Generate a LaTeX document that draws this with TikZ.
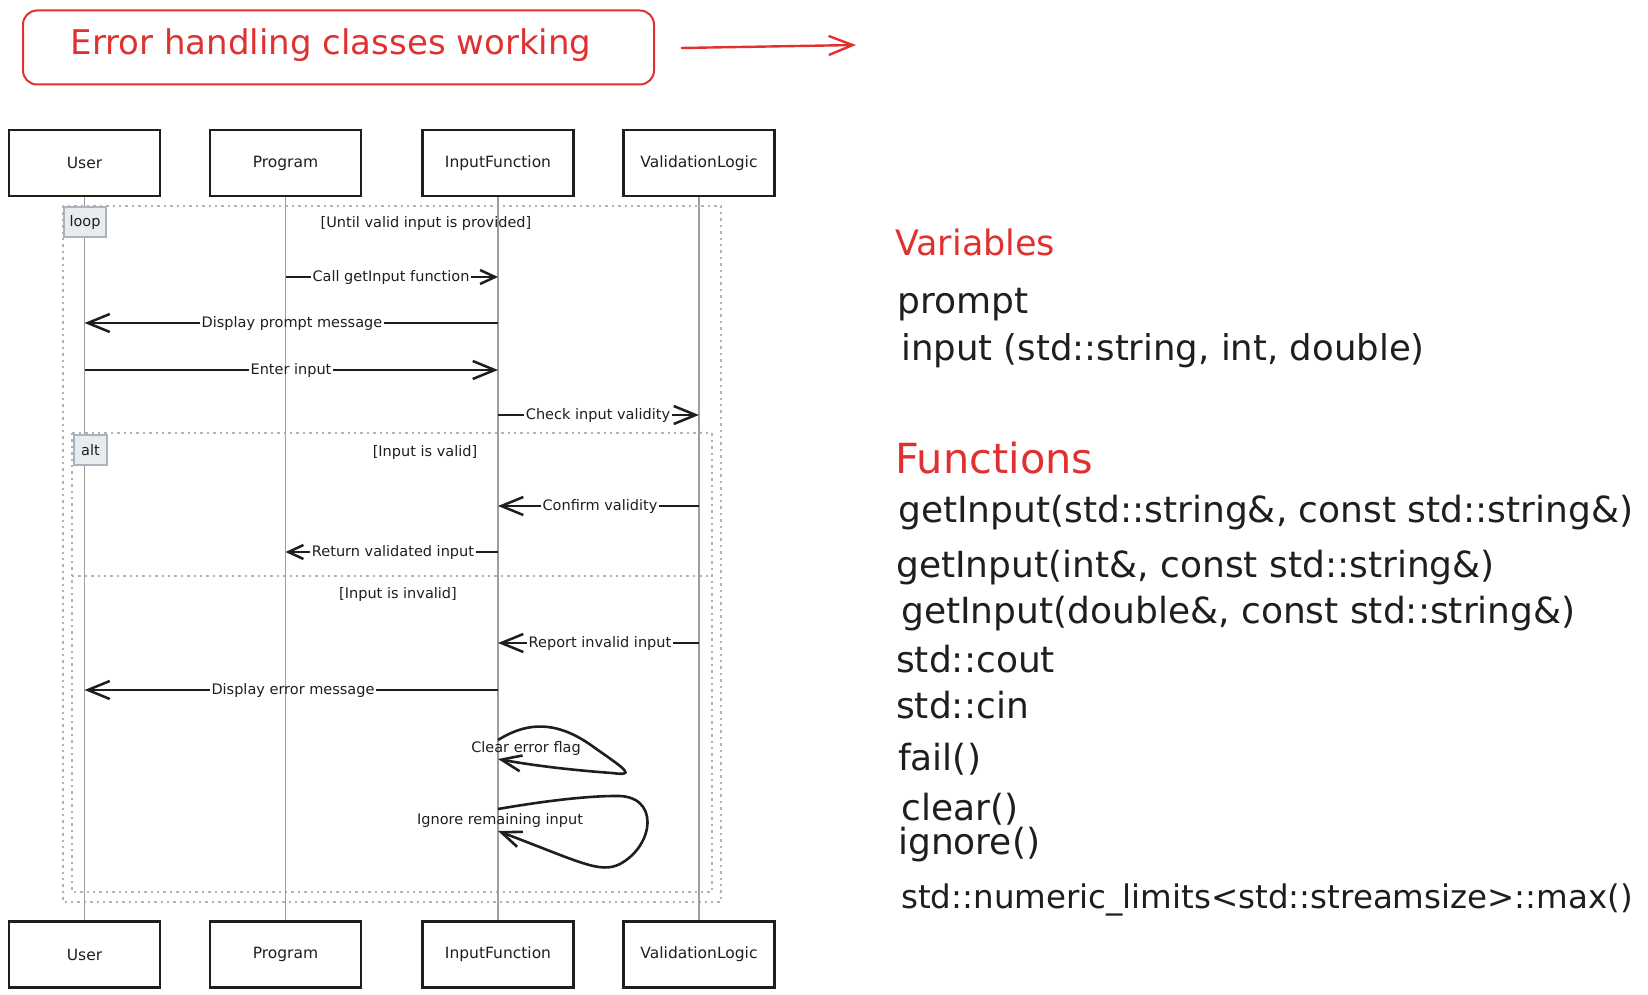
\documentclass[tikz,border=0pt]{standalone}
\usepackage{fontspec}
\setmainfont{DejaVu Sans}
\usetikzlibrary{arrows.meta}
\definecolor{exred}{HTML}{E03131}
\definecolor{ink}{HTML}{1E1E1E}
\definecolor{frameg}{HTML}{A9B4BF}
\definecolor{labfill}{HTML}{E9ECEF}
\definecolor{lifeg}{HTML}{9E9E9E}
\begin{document}
\begin{tikzpicture}[x=1pt,y=-1pt,
 actor/.style={draw=ink, line width=2.2pt, minimum width=151pt, minimum height=66pt, inner sep=0pt, font=\fontsize{15.5}{18}\selectfont, text=ink},
 life/.style={draw=lifeg, line width=1.3pt},
 fragframe/.style={draw=frameg, line width=2.2pt, dash pattern=on 2.4pt off 4pt},
 fraglab/.style={draw=frameg, fill=labfill, line width=2pt, inner sep=0pt, font=\fontsize{14.5}{17}\selectfont, text=ink},
 cond/.style={font=\fontsize{14.5}{17}\selectfont, text=ink, inner sep=0pt},
 mlab/.style={font=\fontsize{14.5}{17}\selectfont, text=ink, inner sep=1.5pt},
 mline/.style={draw=ink, line width=2.5pt},
 marrow/.style={mline, -{Straight Barb[length=22pt,width=18pt]}},
 sarrow/.style={mline, -{Straight Barb[length=15pt,width=14pt]}},
 loopline/.style={draw=ink, line width=2.6pt, -{Straight Barb[length=20pt,width=16pt]}},
 side/.style={anchor=base west, inner sep=0pt, text=ink, font=\fontsize{36}{40}\selectfont},
 head/.style={anchor=base west, inner sep=0pt, text=exred},
]
\useasboundingbox (0,0) rectangle (1648,995);

% title
\node[draw=exred, line width=2pt, rounded corners=14pt, minimum width=631pt, minimum height=74pt] (tbox) at (338.5,47.5) {};
\node[anchor=base, inner sep=0pt, text=exred, font=\fontsize{34}{40}\selectfont] (title) at (331,55) {Error handling classes working};
\coordinate (ta1) at (681,48);
\coordinate (ta2) at (856,45);
\draw[draw=exred, line width=2.4pt, -{Straight Barb[length=24pt,width=19pt]}] (ta1) -- (ta2);

% actors
\node[actor] (u1) at (84.5,163) {User};
\node[actor] (p1) at (285.5,163) {Program};
\node[actor] (f1) at (498,163) {InputFunction};
\node[actor] (v1) at (699,163) {ValidationLogic};
\node[actor] (u2) at (84.5,954.5) {User};
\node[actor] (p2) at (285.5,954.5) {Program};
\node[actor] (f2) at (498,954.5) {InputFunction};
\node[actor] (v2) at (699,954.5) {ValidationLogic};

% frames
\draw[fragframe] (63,206) rectangle (721,902);
\draw[fragframe] (72,433) rectangle (712,892);
\draw[fragframe] (72,576) -- (712,576);

% lifelines
\draw[life] (u1.south) -- (u2.north);
\draw[life] (p1.south) -- (p2.north);
\draw[life] (f1.south) -- (f2.north);
\draw[life] (v1.south) -- (v2.north);

% fragment labels
\node[fraglab, minimum width=42pt, minimum height=30pt, anchor=north west] (lp) at (63,206) {loop};
\node[fraglab, minimum width=33pt, minimum height=30pt, anchor=north west] (al) at (73,434) {alt};
\node[cond] (c1) at (426,223) {[Until valid input is provided]};
\node[cond] (c2) at (425,452) {[Input is valid]};
\node[cond] (c3) at (398,594) {[Input is invalid]};

% messages
\coordinate (m1a) at (p1 |- 0,277); \coordinate (m1b) at (f1 |- 0,277);
\node[mlab] (l1) at (391,277) {Call getInput function};
\draw[mline] (m1a) -- (l1.west); \draw[sarrow] (l1.east) -- (m1b);

\coordinate (m2a) at (f1 |- 0,323); \coordinate (m2b) at (u1 |- 0,323);
\node[mlab] (l2) at (292,323) {Display prompt message};
\draw[mline] (m2a) -- (l2.east); \draw[marrow] (l2.west) -- (m2b);

\coordinate (m3a) at (u1 |- 0,370); \coordinate (m3b) at (f1 |- 0,370);
\node[mlab] (l3) at (291,370) {Enter input};
\draw[mline] (m3a) -- (l3.west); \draw[marrow] (l3.east) -- (m3b);

\coordinate (m4a) at (f1 |- 0,415); \coordinate (m4b) at (v1 |- 0,415);
\node[mlab] (l4) at (598,415) {Check input validity};
\draw[mline] (m4a) -- (l4.west); \draw[marrow] (l4.east) -- (m4b);

\coordinate (m5a) at (v1 |- 0,506); \coordinate (m5b) at (f1 |- 0,506);
\node[mlab] (l5) at (600,506) {Confirm validity};
\draw[mline] (m5a) -- (l5.east); \draw[marrow] (l5.west) -- (m5b);

\coordinate (m6a) at (f1 |- 0,552); \coordinate (m6b) at (p1 |- 0,552);
\node[mlab] (l6) at (393,552) {Return validated input};
\draw[mline] (m6a) -- (l6.east); \draw[sarrow] (l6.west) -- (m6b);

\coordinate (m7a) at (v1 |- 0,643); \coordinate (m7b) at (f1 |- 0,643);
\node[mlab] (l7) at (600,643) {Report invalid input};
\draw[mline] (m7a) -- (l7.east); \draw[marrow] (l7.west) -- (m7b);

\coordinate (m8a) at (f1 |- 0,690); \coordinate (m8b) at (u1 |- 0,690);
\node[mlab] (l8) at (293,690) {Display error message};
\draw[mline] (m8a) -- (l8.east); \draw[marrow] (l8.west) -- (m8b);

% self loops
\coordinate (s1a) at (f1 |- 0,740); \coordinate (s1b) at (f1 |- 0,759);
\draw[loopline] (s1a) .. controls (530,720) and (560,722) .. (595,748) .. controls (628,771) and (635,776) .. (612,773) .. controls (570,770) and (530,765) .. (s1b);
\node[mlab] (l9) at (526,748) {Clear error flag};

\coordinate (s2a) at (f1 |- 0,809); \coordinate (s2b) at (f1 |- 0,831);
\draw[loopline] (s2a) .. controls (550,800) and (590,796) .. (615,796) .. controls (660,794) and (655,845) .. (620,864) .. controls (600,874) and (580,862) .. (s2b);
\node[mlab] (l10) at (500,820) {Ignore remaining input};

% right panel
\node[head, font=\fontsize{35}{40}\selectfont] (hv) at (895,255) {Variables};
\node[side] (t1) at (897,313) {prompt};
\node[side, font=\fontsize{35.5}{40}\selectfont] (t2) at (901,360) {input (std::string, int, double)};
\node[head, font=\fontsize{41.5}{46}\selectfont] (hf) at (895,473) {Functions};
\node[side] (t3) at (898,522) {getInput(std::string\&, const std::string\&)};
\node[side] (t4) at (896,577) {getInput(int\&, const std::string\&)};
\node[side] (t5) at (901,623) {getInput(double\&, const std::string\&)};
\node[side] (t6) at (896,672) {std::cout};
\node[side] (t7) at (896,718) {std::cin};
\node[side] (t8) at (898,770) {fail()};
\node[side] (t9) at (901,820) {clear()};
\node[side] (t10) at (898,854) {ignore()};
\node[side, font=\fontsize{32.5}{36}\selectfont] (t11) at (901,908) {std::numeric\_limits<std::streamsize>::max()};
\end{tikzpicture}
\end{document}
